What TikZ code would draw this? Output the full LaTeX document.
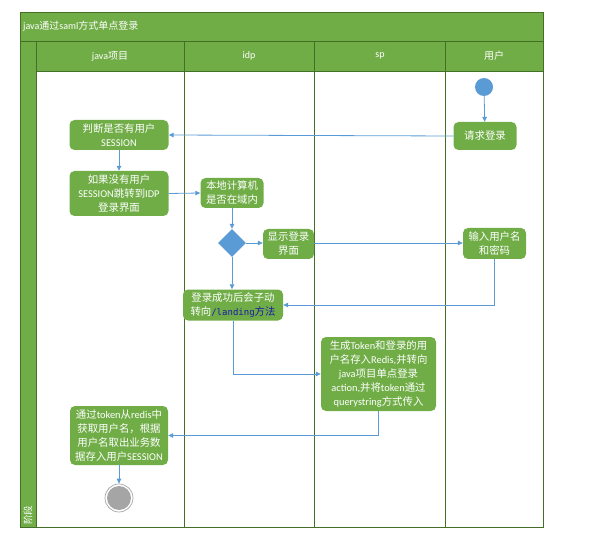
\documentclass[tikz,border=0pt]{standalone}
\usepackage{fontspec}
\setmainfont{Noto Sans CJK SC}
\newfontfamily\latfont{Carlito}
\newfontfamily\monofont{DejaVu Sans Mono}
\newcommand\en[1]{{\latfont #1}}
\usetikzlibrary{arrows.meta,shapes.geometric}
\definecolor{lgreen}{HTML}{70AD47}
\definecolor{dgreen}{HTML}{436F27}
\definecolor{ablue}{HTML}{5B9BD5}
\definecolor{egray}{HTML}{A5A5A5}
\definecolor{navy}{HTML}{1A1AA6}
\tikzset{
  lane/.style={draw=dgreen, line width=0.9pt},
  hdr/.style={text=white, font=\fontsize{10}{12}\selectfont, inner sep=0pt},
  act/.style={fill=lgreen, rounded corners=5pt, text=white, align=center,
    font=\fontsize{10.4}{14}\selectfont, inner sep=0pt},
  flow/.style={draw=ablue, line width=0.8pt, -{Triangle[length=5pt,width=4.5pt]}},
  dec/.style={diamond, fill=ablue, minimum width=28pt, minimum height=28pt, inner sep=0pt},
}
\begin{document}
\begin{tikzpicture}[x=1pt,y=-1pt]
\useasboundingbox (0,0) rectangle (608,548);
% frame
\fill[lgreen] (20,12) rectangle (543,71);
\fill[lgreen] (20,71) rectangle (36,527);
\draw[lane] (20,12) rectangle (543,527);
\draw[lane] (20,41) -- (543,41);
\draw[lane] (36,71) -- (543,71);
\draw[lane] (36,41) -- (36,527);
\foreach \x in {184,314,445} \draw[lane] (\x,41) -- (\x,527);
% texts
\node[hdr, anchor=west] (title) at (23,26) {\en{java}通过\en{saml}方式单点登录};
\node[hdr] (h1) at (110,56) {\en{java}项目};
\node[hdr] (h2) at (249,56) {\en{idp}};
\node[hdr] (h3) at (380,56) {\en{sp}};
\node[hdr] (h4) at (494,56) {用户};
\node[hdr, rotate=90, font=\fontsize{9.5}{10}\selectfont] (stage) at (28,515) {阶段};
% nodes
\node[circle, fill=ablue, minimum size=18pt, inner sep=0pt] (start) at (484,87) {};
\node[act, minimum width=63pt, minimum height=28pt] (req) at (485,136) {请求登录};
\node[act, minimum width=99pt, minimum height=30pt] (judge) at (119,135) {判断是否有用户\\\en{SESSION}};
\node[act, minimum width=99pt, minimum height=45pt] (ifno) at (119,193.5) {如果没有用户\\\en{SESSION}跳转到\en{IDP}\\登录界面};
\node[act, minimum width=63pt, minimum height=30pt] (local) at (232,193) {本地计算机\\是否在域内};
\node[dec] (dia) at (232,243) {};
\node[act, minimum width=51pt, minimum height=30pt] (show) at (288.5,244) {显示登录\\界面};
\node[act, minimum width=63pt, minimum height=31pt] (input) at (494.5,243.5) {输入用户名\\和密码};
\node[act, minimum width=100pt, minimum height=31pt] (succ) at (233,305) {登录成功后会子动\\转向{\monofont\fontsize{9}{14}\selectfont\color{navy}/landing}{\color{navy}方法}};
\node[act, minimum width=115pt, minimum height=74pt] (gen) at (378.5,374) {生成\en{Token}和登录的用\\户名存入\en{Redis,}并转向\\\en{java}项目单点登录\\\en{action,}并将\en{token}通过\\\en{querystring}方式传入};
\node[act, minimum width=98pt, minimum height=59pt] (fetch) at (119,435.5) {通过\en{token}从\en{redis}中\\获取用户名，根据\\用户名取出业务数\\据存入用户\en{SESSION}};
\node[circle, draw=egray, line width=0.7pt, minimum size=28pt, inner sep=0pt] (endo) at (119,498) {};
\fill[egray] (endo.center) circle (12);
% connectors
\draw[flow] (start) -- (req);
\draw[flow] (req.west) -- (judge.east);
\draw[flow] (judge) -- (ifno);
\draw[flow] (ifno.east) -- (local.west);
\draw[flow] (local) -- (dia);
\draw[flow] (dia.east) -- (show.west |- dia.east);
\draw[flow] (show.east |- dia.east) -- (input.west |- dia.east);
\draw[flow] (dia.south) -- (dia.south |- succ.north);
\draw[flow] (input.south) |- (succ.east);
\draw[flow] (succ.south) |- (gen.west);
\draw[flow] (gen.south) |- (fetch.east);
\draw[flow] (fetch) -- (endo);
\end{tikzpicture}
\end{document}
